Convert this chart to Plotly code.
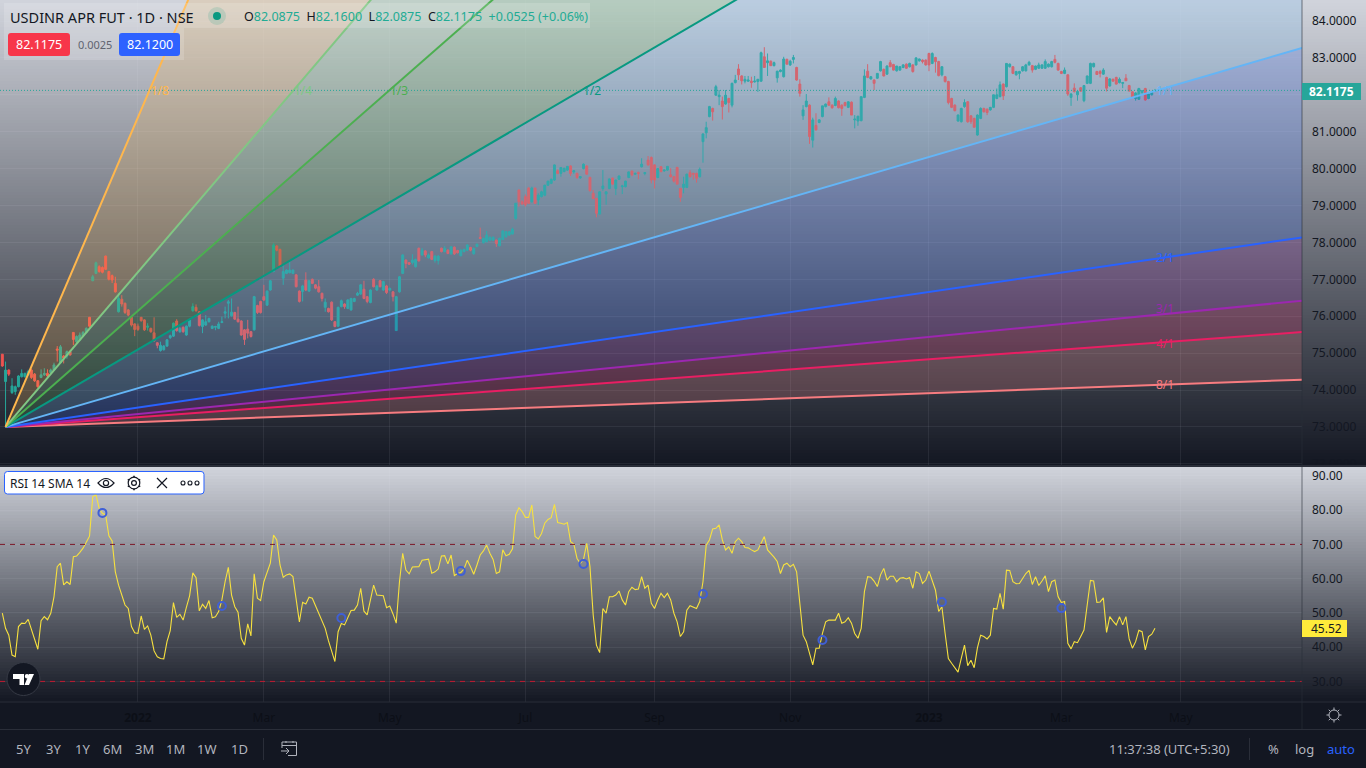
import plotly.graph_objects as go

W, H = 1366, 768

# ---------------- data ----------------
opens = [
74.97,74.23,74.54,73.93,73.96,74.09,74.36,74.36,74.41,74.54,
74.43,74.25,74.34,74.41,74.45,74.47,74.54,75.11,74.74,74.92,
74.92,75.04,75.56,75.31,75.36,75.46,75.56,75.97,76.96,77.16,
77.34,77.32,77.63,77.21,77.10,76.89,76.12,76.46,76.35,76.17,
75.97,75.79,75.73,75.97,75.90,75.70,75.67,75.55,75.28,75.07,
75.09,75.19,75.42,75.46,75.87,75.58,75.70,75.49,75.73,76.15,
76.24,76.12,75.72,75.76,75.85,75.67,75.70,75.67,75.83,76.08,
76.35,76.01,76.10,75.92,75.87,75.63,75.65,75.58,75.63,76.29,
76.40,76.53,76.30,76.71,77.21,77.90,77.81,77.03,77.16,77.18,
77.16,77.12,76.68,76.67,76.98,76.68,77.00,76.85,76.80,76.62,
76.24,76.21,76.38,75.85,75.73,76.26,76.33,76.21,76.17,76.40,
76.57,76.60,76.73,76.53,76.37,77.00,76.71,76.96,76.71,76.82,
76.71,76.66,75.61,76.66,77.16,77.52,77.45,77.45,77.34,77.84,
77.66,77.77,77.58,77.75,77.51,77.51,77.84,77.75,77.79,
77.69,77.87,77.78,77.64,77.75,77.79,77.86,77.69,77.89,78.13,
77.99,78.02,78.06,78.06,78.06,77.91,78.08,78.15,78.20,78.23,
78.65,79.42,79.10,79.24,79.47,79.10,79.47,79.15,79.24,79.28,79.55,
79.60,79.69,79.94,79.87,79.92,79.96,80.07,79.91,79.87,79.75,
80.00,80.07,79.76,79.33,79.19,78.77,79.46,79.31,79.46,79.74,
79.46,79.71,79.51,79.51,79.76,79.93,79.85,79.89,80.05,79.87,
80.23,80.30,80.10,79.76,80.05,79.94,79.96,79.83,79.78,80.03,
79.46,79.49,79.49,79.89,79.87,79.87,79.78,80.73,80.97,81.41,
81.63,81.99,81.95,81.83,81.75,81.90,81.72,82.33,82.70,82.51,
82.37,82.37,82.37,82.35,82.36,82.37,83.03,82.87,82.91,
82.79,82.46,82.63,82.49,82.96,82.81,82.96,82.74,82.29,81.43,
81.68,81.72,80.77,81.17,81.25,81.41,81.68,81.81,81.72,81.71,
81.83,81.72,81.79,81.66,81.80,81.32,81.29,81.30,81.93,82.64,
82.43,82.40,82.45,82.65,82.69,82.56,82.87,82.82,82.65,
82.67,82.74,82.83,82.76,82.81,82.81,82.92,82.94,82.94,83.12,
82.85,83.01,82.90,82.54,82.49,82.36,81.90,81.72,81.29,81.27,
81.68,81.81,81.43,81.36,80.91,81.36,81.63,81.61,81.59,81.66,
81.90,81.95,82.29,82.22,82.76,82.76,82.54,82.58,82.65,82.65,
82.81,82.79,82.69,82.72,82.72,82.72,82.76,82.76,82.96,82.85,
82.63,82.58,82.54,81.93,82.18,82.00,82.19,81.84,82.31,82.31,
82.76,82.63,82.63,82.56,82.47,82.24,82.42,82.47,82.33,82.31,
82.45,82.25,82.08,81.90,81.88,82.06,82.17,81.90,82.00,82.09]
highs = [
74.97,74.77,74.56,74.32,74.12,74.40,74.56,74.47,74.55,74.58,
74.46,74.27,74.56,74.59,74.56,74.58,74.74,75.19,75.22,74.95,
75.07,75.07,75.57,75.48,75.56,75.60,75.70,75.98,77.12,77.48,
77.38,77.35,77.64,77.23,77.13,77.07,76.62,76.57,76.37,76.19,
75.98,75.81,75.80,75.98,75.92,75.81,75.69,75.97,75.30,75.31,
75.22,75.38,75.50,75.83,75.92,75.71,75.72,75.75,75.93,76.35,
76.32,76.14,75.92,76.03,75.96,75.75,75.74,75.85,75.99,76.26,
76.44,76.48,76.12,76.26,75.89,75.65,75.90,75.60,76.55,76.31,
76.42,76.85,76.70,76.98,77.98,77.93,77.83,77.39,77.27,77.48,
77.27,77.14,76.70,76.85,77.19,76.98,77.02,76.87,76.98,76.64,
76.48,76.23,76.40,75.87,76.26,76.45,76.35,76.46,76.50,76.50,
76.66,76.87,76.96,76.55,76.73,77.03,76.85,76.98,76.96,76.85,
76.78,76.68,76.55,77.09,77.68,77.54,77.47,77.68,77.56,77.86,
77.85,77.79,77.70,77.77,77.65,77.65,77.86,77.90,77.81,
77.90,77.89,77.80,77.81,77.83,77.95,77.88,77.86,77.97,78.40,
78.13,78.31,78.16,78.16,78.08,78.13,78.33,78.31,78.31,78.40,
79.07,79.43,79.14,79.30,79.50,79.51,79.49,79.33,79.40,79.56,79.67,
79.73,80.11,79.98,80.04,80.02,80.07,80.09,79.96,79.89,79.80,
80.14,80.09,79.78,79.42,79.21,79.38,79.96,79.38,79.73,79.76,
79.70,79.81,79.56,79.67,79.92,79.95,79.89,79.92,80.28,79.90,
80.34,80.33,80.12,80.01,80.07,79.98,80.07,80.01,79.80,80.05,
79.48,79.78,79.86,79.96,79.89,79.89,80.03,80.95,81.27,81.70,
81.65,82.27,82.13,81.95,82.13,81.92,82.33,82.54,82.83,82.53,
82.51,82.51,82.49,82.51,82.43,83.17,83.29,83.12,82.93,
82.90,82.65,82.69,83.03,82.98,82.95,83.08,82.76,82.42,81.72,
82.02,81.74,81.38,81.50,81.34,81.70,81.76,81.93,81.74,81.95,
81.85,81.74,81.81,81.82,81.82,81.45,81.43,81.95,82.69,82.83,
82.51,82.42,82.59,82.92,82.71,82.80,82.94,82.84,82.78,
82.78,82.83,82.85,82.87,82.83,83.02,82.98,82.96,82.96,83.14,
83.15,83.03,82.92,82.78,82.51,82.38,81.92,81.74,81.47,81.65,
81.88,81.83,81.45,81.38,81.47,81.66,81.65,81.63,81.67,82.00,
82.17,82.36,82.31,82.86,82.85,82.78,82.65,82.65,82.78,82.84,
82.92,82.81,82.79,82.87,82.83,82.96,82.85,82.92,83.08,82.87,
82.65,82.74,82.56,82.05,82.31,82.11,82.21,82.26,82.52,82.87,
82.87,82.65,82.67,82.72,82.49,82.45,82.44,82.49,82.47,82.34,
82.56,82.27,82.10,82.07,82.19,82.13,82.19,82.03,82.06,82.16]
lows = [
74.63,73.02,74.38,73.89,73.87,74.07,74.34,74.34,74.38,74.30,
74.22,74.06,74.32,74.38,74.34,74.45,74.52,74.77,74.72,74.72,
74.85,74.93,75.22,75.27,75.33,75.44,75.54,75.70,76.95,77.14,
77.18,77.16,77.25,76.97,76.90,76.64,76.10,76.26,76.06,76.00,
75.72,75.46,75.60,75.85,75.60,75.61,75.55,75.31,75.13,75.04,
75.07,75.17,75.38,75.44,75.58,75.55,75.55,75.47,75.70,76.12,
76.12,75.72,75.54,75.74,75.83,75.65,75.62,75.65,75.81,75.94,
75.94,75.99,75.90,75.83,75.47,75.22,75.40,75.42,75.61,76.06,
76.07,76.41,76.28,76.69,77.19,77.76,77.32,76.85,77.14,77.16,
77.14,76.78,76.37,76.40,76.68,76.66,76.87,76.73,76.64,76.40,
76.12,76.10,75.87,75.70,75.71,76.24,76.20,76.19,76.15,76.38,
76.55,76.58,76.46,76.35,76.35,76.78,76.69,76.78,76.69,76.60,
76.68,76.40,75.60,76.64,77.14,77.30,77.39,77.40,77.32,77.48,
77.64,77.60,77.56,77.52,77.45,77.40,77.73,77.73,77.68,
77.67,77.66,77.70,77.62,77.73,77.77,77.76,77.67,77.87,78.09,
77.97,78.00,78.04,78.04,77.88,77.89,78.06,78.13,78.18,78.21,
78.61,78.97,79.02,78.97,79.04,79.08,79.04,79.01,79.22,79.25,79.53,
79.58,79.67,79.85,79.78,79.90,79.94,79.80,79.86,79.72,79.72,
79.98,79.83,79.38,79.17,78.68,78.75,79.40,79.02,79.44,79.56,
79.28,79.69,79.31,79.49,79.74,79.79,79.83,79.71,80.03,79.82,
80.08,79.60,79.46,79.74,79.90,79.91,79.94,79.76,79.62,79.56,
79.10,79.33,79.47,79.76,79.70,79.62,79.76,80.16,80.82,81.39,
81.30,81.97,81.72,81.33,81.73,81.52,81.66,82.31,82.40,82.28,
82.31,82.35,82.19,82.33,82.08,82.35,82.73,82.51,82.78,
82.77,82.33,82.61,82.47,82.82,82.78,82.85,82.38,81.95,81.32,
81.66,80.67,80.57,81.03,81.23,81.39,81.66,81.70,81.62,81.69,
81.63,81.43,81.68,81.64,81.45,81.09,81.16,81.28,81.91,82.45,
82.41,82.13,82.43,82.63,82.50,82.54,82.75,82.66,82.63,
82.65,82.72,82.70,82.74,82.60,82.79,82.90,82.85,82.79,82.64,
82.83,82.60,82.50,82.50,82.33,81.74,81.64,81.55,81.27,81.25,
81.65,81.24,81.21,81.12,80.89,81.34,81.52,81.45,81.57,81.64,
81.88,81.93,81.86,82.20,82.74,82.56,82.52,82.42,82.63,82.63,
82.79,82.60,82.67,82.70,82.70,82.70,82.74,82.74,82.85,82.65,
82.56,82.56,81.97,81.70,82.06,81.84,82.08,81.80,82.29,82.29,
82.74,82.54,82.47,82.54,82.09,82.22,82.36,82.28,82.31,82.18,
82.38,82.10,81.93,81.84,81.86,82.00,81.84,81.88,81.98,82.09]
closes = [
74.65,74.54,74.43,74.11,74.09,74.38,74.45,74.45,74.50,74.34,
74.25,74.09,74.41,74.45,74.38,74.54,74.68,75.08,75.17,74.86,
75.04,74.95,75.37,75.45,75.49,75.56,75.67,75.73,77.07,77.45,
77.21,77.19,77.27,77.00,76.98,76.66,76.48,76.33,76.10,76.03,
75.76,75.64,75.64,75.88,75.63,75.73,75.58,75.33,75.21,75.21,
75.19,75.36,75.47,75.81,75.61,75.67,75.58,75.73,75.90,76.26,
76.15,75.75,75.90,75.85,75.94,75.73,75.72,75.79,75.85,76.12,
76.39,76.11,75.92,75.85,75.49,75.37,75.54,75.45,76.53,76.10,
76.10,76.44,76.68,76.96,77.93,77.79,77.36,77.21,77.25,77.25,
77.25,76.80,76.40,76.82,76.71,76.96,76.89,76.76,76.66,76.48,
76.38,76.12,75.90,75.72,76.24,76.42,76.26,76.44,76.48,76.48,
76.62,76.85,76.48,76.40,76.71,76.80,76.82,76.80,76.94,76.64,
76.75,76.53,76.53,77.07,77.66,77.43,77.41,77.52,77.54,77.50,
77.79,77.66,77.66,77.54,77.63,77.63,77.75,77.84,77.70,
77.88,77.69,77.72,77.79,77.81,77.93,77.79,77.84,77.95,78.11,
78.11,78.20,78.14,78.14,77.97,78.11,78.31,78.29,78.29,78.36,
79.06,79.10,79.04,79.02,79.06,79.47,79.06,79.28,79.37,79.55,79.66,
79.71,80.10,79.87,80.03,80.01,80.06,79.87,79.94,79.76,79.78,
80.12,79.85,79.40,79.19,78.79,79.37,79.53,79.37,79.72,79.58,
79.69,79.80,79.53,79.66,79.91,79.83,79.87,79.87,80.12,79.89,
80.10,79.69,79.69,80.00,79.92,79.96,80.06,79.78,79.66,79.58,
79.22,79.58,79.85,79.78,79.85,79.74,79.98,80.94,81.11,81.68,
81.54,82.22,81.99,81.68,81.99,81.79,82.31,82.40,82.54,82.38,
82.42,82.40,82.33,82.37,82.42,83.14,82.74,82.92,82.79,
82.87,82.64,82.67,82.97,82.83,82.91,83.01,82.40,82.04,81.59,
81.83,80.87,81.32,81.05,81.32,81.70,81.75,81.72,81.65,81.90,
81.65,81.63,81.71,81.81,81.45,81.34,81.42,81.95,82.51,82.47,
82.49,82.31,82.58,82.90,82.51,82.78,82.76,82.67,82.78,
82.76,82.81,82.72,82.85,82.63,83.00,82.97,82.90,82.81,82.81,
83.12,82.90,82.52,82.76,82.36,81.79,81.66,81.57,81.45,81.63,
81.79,81.27,81.27,81.12,81.45,81.63,81.54,81.52,81.66,82.00,
82.00,82.27,81.97,82.85,82.83,82.58,82.63,82.63,82.76,82.81,
82.88,82.67,82.78,82.81,82.81,82.90,82.83,82.90,82.88,82.67,
82.58,82.67,82.02,82.02,82.09,82.09,82.10,82.25,82.51,82.85,
82.85,82.55,82.58,82.67,82.18,82.43,82.37,82.29,82.42,82.33,
82.38,82.10,81.93,82.05,82.17,82.11,81.86,82.02,82.06,82.12]

rsi = [
49.9,45.5,43.5,37.7,37.2,46.0,47.0,46.9,48.1,45.0,42.1,39.4,47.7,48.9,48.0,49.9,54.7,63.5,64.5,58.2,
59.1,58.3,66.4,66.6,67.7,68.9,70.6,72.4,83.9,84.6,80.5,79.1,78.6,72.5,71.0,62.0,58.1,55.2,52.3,51.3,
46.0,44.2,44.0,49.1,45.2,46.2,43.5,38.9,37.2,36.7,36.6,41.6,44.8,53.0,48.7,49.6,47.9,51.6,55.0,61.7,
60.3,50.6,52.5,51.3,53.6,48.6,48.9,50.4,53.8,59.1,63.3,55.2,51.8,50.2,42.6,40.6,46.8,43.3,61.4,54.3,
53.6,59.1,61.8,64.5,72.7,71.3,64.0,60.4,61.1,61.4,60.6,53.3,47.4,53.1,52.6,54.6,54.3,52.1,49.9,47.6,
45.5,41.9,38.7,35.8,44.5,46.9,46.5,48.6,50.7,50.8,52.3,57.2,50.5,49.4,53.8,58.1,55.2,55.1,55.0,51.5,
52.0,49.7,47.0,59.1,67.4,62.5,61.4,63.4,63.5,63.5,65.4,65.6,65.7,61.6,62.0,62.8,66.6,66.7,64.3,66.9,
60.9,61.5,61.8,62.8,65.4,63.5,61.3,64.0,66.9,68.1,69.8,67.4,65.6,61.5,62.0,68.4,66.7,67.1,68.7,78.6,
80.7,79.6,77.9,77.9,81.5,72.3,71.6,73.2,76.2,77.3,77.8,81.7,76.4,76.2,75.9,76.4,70.8,70.1,65.9,64.5,
65.6,70.3,63.5,49.4,40.6,38.4,51.3,49.9,54.7,54.7,55.2,56.4,53.8,52.3,56.2,57.5,56.8,57.0,60.6,57.2,
58.1,52.8,51.3,53.8,55.7,54.5,55.7,53.8,49.9,47.4,43.1,44.5,50.8,52.1,51.8,51.3,53.3,59.1,69.8,71.3,
74.5,74.7,75.7,71.3,68.4,69.3,67.4,70.8,71.8,70.8,69.1,69.0,68.4,67.9,68.4,70.3,72.3,68.4,67.4,66.3,
65.0,61.5,64.0,64.5,63.5,64.2,62.0,52.3,43.5,41.6,38.2,34.8,39.7,39.7,44.0,47.4,47.9,47.9,47.9,49.9,
47.0,47.4,48.6,47.0,44.0,42.6,45.5,56.2,60.6,60.4,59.3,57.7,61.1,63.0,59.6,60.7,60.7,59.1,60.1,60.3,
59.9,60.3,57.2,62.0,61.5,58.6,59.6,62.2,59.6,56.7,50.4,51.8,44.0,36.7,35.3,34.1,32.7,36.7,40.6,34.6,
36.2,34.0,39.8,43.5,43.1,42.4,43.5,51.3,51.1,55.7,51.1,62.5,62.4,59.1,58.5,58.6,60.1,61.5,62.4,58.3,
60.6,58.0,59.3,60.8,56.2,59.1,59.6,54.7,53.0,53.3,41.1,39.5,41.6,41.3,43.1,45.0,52.3,59.5,59.3,53.1,
53.2,54.4,44.3,48.9,47.6,46.5,48.9,46.5,48.9,42.4,39.7,41.6,44.9,44.5,39.2,43.1,43.8,45.52]

# hollow circle readings on the RSI pane
marker_bars = [31, 68, 105, 142, 180, 217, 254, 291, 328]
marker_rsi = [79.2, 52.0, 48.5, 62.2, 64.3, 55.5, 42.1, 53.2, 51.4]

# Gann fan: anchor and the price each ray reaches at the right edge
fan_labels = ["8/1", "4/1", "3/1", "2/1", "1/1", "1/2", "1/3", "1/4", "1/8"]
fan_end = [74.28, 75.57, 76.42, 78.135, 83.27, 93.54, 103.81, 114.08, 155.16]
fan_line = ["#f77c80", "#e91e63", "#9c27b0", "#2962ff", "#64b5f6", "#089981", "#4caf50", "#81c784", "#ffb74d"]
fan_fill = [None, "rgba(247,124,128,0.2)", "rgba(233,30,99,0.2)", "rgba(156,39,176,0.2)", "rgba(41,98,255,0.2)",
            "rgba(100,181,246,0.2)", "rgba(76,175,80,0.2)", "rgba(129,199,132,0.2)", "rgba(255,183,77,0.2)"]
fan_label_bar = [360, 360, 360, 360, 360, 182.6, 123, 93, 48.8]
fan_label_price = [74.15, 75.26, 76.2, 77.58, 82.12, 82.12, 82.12, 82.12, 82.12]
anchor_bar, anchor_price = 1, 73.0

time_ticks = [42, 81, 120, 162, 202, 244, 287, 328, 365]
time_labels = ["<b>2022</b>", "Mar", "May", "Jul", "Sep", "Nov", "<b>2023</b>", "Mar", "May"]
price_ticks = list(range(72, 85))
rsi_ticks = [30, 40, 50, 60, 70, 80, 90]
range_buttons = ["5Y", "3Y", "1Y", "6M", "3M", "1M", "1W", "1D"]
range_button_px = [23, 53, 82.5, 112.5, 144, 175.5, 207, 239]

assert len(opens) == len(highs) == len(lows) == len(closes) == len(rsi), (len(opens), len(highs), len(lows), len(closes), len(rsi))
bars = list(range(len(closes)))

# ---------------- geometry helpers ----------------
PANE_R = 1302
FIRST_PX, LAST_PX = 2.33, 1155.0
step = (LAST_PX - FIRST_PX) / (len(bars) - 1)
x_range = [-FIRST_PX / step, (PANE_R - FIRST_PX) / step]
y_range = [84 - (465 - 21) / 36.9, 84 + 21 / 36.9]
rsi_range = [70 - (702 - 544.4) / 3.425, 70 + (544.4 - 467) / 3.425]

def fx(x): return x / W
def fy(y): return 1 - y / H
def p(x, y): return f"{x / W:.5f},{1 - y / H:.5f}"

shapes, ann = [], []

def rect(x0, y0, x1, y1, fill, layer="above", line=None, lw=0, kind="rect"):
    shapes.append(dict(type=kind, xref="paper", yref="paper", x0=fx(x0), x1=fx(x1), y0=fy(y0), y1=fy(y1),
                       fillcolor=fill, layer=layer, line=dict(color=line or "rgba(0,0,0,0)", width=lw)))

def circle(cx, cy, r, fill="rgba(0,0,0,0)", line=None, lw=0):
    rect(cx - r, cy - r, cx + r, cy + r, fill, line=line, lw=lw, kind="circle")

def path(d, line="#131722", lw=1.2, fill="rgba(0,0,0,0)"):
    shapes.append(dict(type="path", xref="paper", yref="paper", path=d, fillcolor=fill, layer="above",
                       line=dict(color=line, width=lw)))

def text(x, y, s, size=13, color="#131722", anchor="center", family="Noto Sans"):
    ann.append(dict(xref="paper", yref="paper", x=fx(x), y=fy(y), text=s, showarrow=False, xanchor=anchor,
                    yanchor="middle", align="left", borderpad=0, font=dict(size=size, color=color, family=family)))

def round_rect(x0, y0, x1, y1, r, fill, line=None, lw=0):
    d = (f"M{p(x0 + r, y0)} L{p(x1 - r, y0)} Q{p(x1, y0)} {p(x1, y0 + r)} L{p(x1, y1 - r)} Q{p(x1, y1)} {p(x1 - r, y1)} "
         f"L{p(x0 + r, y1)} Q{p(x0, y1)} {p(x0, y1 - r)} L{p(x0, y0 + r)} Q{p(x0, y0)} {p(x0 + r, y0)} Z")
    path(d, line=line or "rgba(0,0,0,0)", lw=lw, fill=fill)

def mix(t):
    a, b = (209, 212, 220), (19, 23, 34)
    return "rgb(" + ",".join(str(round(u + (v - u) * t)) for u, v in zip(a, b)) + ")"

def gradient(y0, y1, band=3):
    y = y0
    while y < y1:
        t = (y + band / 2 - y0) / (y1 - y0)
        rect(0, y, W, min(y + band + 1, y1), mix(min(t, 1)), layer="below")
        y += band

# ---------------- backgrounds ----------------
gradient(0, 465)
gradient(467, 702)
BORDER = "#2a2e39"

# ---------------- traces ----------------
fig = go.Figure()
fig.add_trace(go.Candlestick(x=bars, open=opens, high=highs, low=lows, close=closes, xaxis="x", yaxis="y",
                             increasing=dict(line=dict(color="#26a69a", width=1), fillcolor="#26a69a"),
                             decreasing=dict(line=dict(color="#ef5350", width=1), fillcolor="#ef5350"),
                             whiskerwidth=0, hoverinfo="skip", showlegend=False))
for end, lc, fc in zip(fan_end, fan_line, fan_fill):
    fig.add_trace(go.Scatter(x=[anchor_bar, x_range[1]], y=[anchor_price, end], mode="lines", xaxis="x", yaxis="y",
                             line=dict(color=lc, width=2), fill="tonexty" if fc else None,
                             fillcolor=fc, hoverinfo="skip", showlegend=False))
fig.add_trace(go.Scatter(x=bars, y=rsi, mode="lines", xaxis="x2", yaxis="y2",
                         line=dict(color="#f7e13f", width=1.1), hoverinfo="skip", showlegend=False))
fig.add_trace(go.Scatter(x=marker_bars, y=marker_rsi, mode="markers", xaxis="x2", yaxis="y2",
                         marker=dict(symbol="circle-open", size=8, color="#3f5fd6", line=dict(width=2, color="#3f5fd6")),
                         hoverinfo="skip", showlegend=False))

for lab, bar, price, lc in zip(fan_labels, fan_label_bar, fan_label_price, fan_line):
    ann.append(dict(xref="x", yref="y", x=bar, y=price, text=lab, showarrow=False, xanchor="center", yanchor="middle",
                    font=dict(size=12, color=lc, family="Noto Sans")))

# reference lines
shapes.append(dict(type="line", xref="paper", yref="y", x0=0, x1=fx(PANE_R), y0=closes[-1], y1=closes[-1], layer="above",
                   line=dict(color="#26a69a", width=1, dash="1px,2px")))
shapes.append(dict(type="line", xref="paper", yref="y2", x0=0, x1=fx(PANE_R), y0=70, y1=70, layer="above",
                   line=dict(color="#7d1626", width=1, dash="5px,5px")))
shapes.append(dict(type="line", xref="paper", yref="y2", x0=0, x1=fx(PANE_R), y0=30, y1=30, layer="above",
                   line=dict(color="#c21a30", width=1, dash="5px,5px")))

# pane separators
rect(PANE_R, 465, W, 470, mix(0.0))
rect(0, 465, W, 467, "#2a2e39")
rect(0, 702, W, 729, "#131722", layer="below")
rect(0, 729, W, 768, "#131722", layer="below")
rect(0, 701.5, W, 702.5, BORDER)
rect(0, 729, W, 730, BORDER)
rect(PANE_R - 0.5, 0, PANE_R + 0.5, 729, "rgba(42,46,57,0.6)")

# header
rect(4, 3, 590, 28, "rgba(255,255,255,0.16)")
rect(4, 28, 184, 60, "rgba(255,255,255,0.16)")
text(9, 17, "USDINR APR FUT · 1D · NSE", size=14.5, anchor="left")
circle(217, 16, 9, fill="rgba(8,153,129,0.15)")
circle(217, 16, 4, fill="#089981")
T = "#22ab94"
ohlc = (f'O<span style="color:{T}">82.0875</span>  H<span style="color:{T}">82.1600</span>  '
        f'L<span style="color:{T}">82.0875</span>  C<span style="color:{T}">82.1175</span>  '
        f'<span style="color:{T}">+0.0525 (+0.06%)</span>')
text(243, 17, ohlc, size=12.5, anchor="left")
round_rect(8, 33, 70, 56, 3, "#f7364a")
round_rect(119, 33, 180, 56, 3, "#2e62ff")
text(39, 44.5, "82.1175", size=12.5, color="#ffffff")
text(149.5, 44.5, "82.1200", size=12.5, color="#ffffff")
text(94.5, 44.5, "0.0025", size=11, color="#5f6470")

# price labels
rect(1302, 83, 1361, 100, "#26a69a")
text(1331.5, 91.5, "<b>82.1175</b>", size=12, color="#ffffff")
rect(1302, 620, 1347, 637, "#ffeb3b")
text(1326, 628.5, "45.52", size=12, color="#131722")

# RSI legend
round_rect(4.5, 471.5, 204, 494, 3, "#ffffff", line="#2962ff", lw=1)
text(9, 483, "RSI 14 SMA 14", size=12, color="#131722", anchor="left")
path(f"M{p(98, 483)} Q{p(106, 474)} {p(114, 483)} Q{p(106, 492)} {p(98, 483)} Z")
circle(106, 483, 2.6, line="#131722", lw=1.2)
circle(134, 483, 5.8, line="#131722", lw=1.2)
circle(134, 483, 2.4, line="#131722", lw=1.2)
for dx, dy in [(0, -7.2), (0, 7.2), (6.2, -3.6), (-6.2, 3.6), (6.2, 3.6), (-6.2, -3.6)]:
    path(f"M{p(134 + dx * 0.8, 483 + dy * 0.8)} L{p(134 + dx, 483 + dy)}", lw=1.6)
path(f"M{p(157, 478)} L{p(167, 488)} M{p(167, 478)} L{p(157, 488)}")
for cx in (183, 190, 197):
    circle(cx, 483, 2, line="#131722", lw=1.1)

# logo
circle(23.5, 679, 16.5, fill="#131722", line="#363a45", lw=1)
WHT = "#ffffff"
path(f"M{p(13, 674)} L{p(24, 674)} L{p(24, 685)} L{p(19.5, 685)} L{p(19.5, 679)} L{p(13, 679)} Z", line=WHT, lw=0, fill=WHT)
circle(27, 676.3, 2.2, fill=WHT)
path(f"M{p(29, 674)} L{p(34, 674)} L{p(29, 685)} L{p(24.5, 685)} Z", line=WHT, lw=0, fill=WHT)

# settings icon
GR = "#b2b5be"
circle(1334, 715, 5, line=GR, lw=1)
for dx, dy in [(0, 1), (0, -1), (1, 0), (-1, 0), (.7, .7), (-.7, .7), (.7, -.7), (-.7, -.7)]:
    path(f"M{p(1334 + 5 * dx, 715 + 5 * dy)} L{p(1334 + 7.5 * dx, 715 + 7.5 * dy)}", line=GR, lw=1)

# bottom bar
for lab, xp in zip(range_buttons, range_button_px):
    text(xp, 749, lab, size=13, color=GR)
rect(263, 738, 264, 760, "#2a2e39")
rect(1249, 738, 1250, 760, "#2a2e39")
path(f"M{p(282, 748)} L{p(282, 742)} L{p(296.5, 742)} L{p(296.5, 755.5)} L{p(288, 755.5)} "
     f"M{p(282, 745.5)} L{p(296.5, 745.5)} M{p(286, 741)} L{p(286, 743)} M{p(293, 741)} L{p(293, 743)} "
     f"M{p(281, 751)} L{p(289, 751)} M{p(286, 748)} L{p(289, 751)} L{p(286, 754)}", line=GR, lw=1)
text(1169, 749, "11:37:38 (UTC+5:30)", size=13, color=GR)
text(1273, 749, "%", size=13, color=GR)
text(1304, 749, "log", size=13, color=GR)
text(1341, 749, "auto", size=13, color="#2962ff")

GRID = "rgba(240,243,250,0.07)"
all_time_ticks = [x_range[0]] + time_ticks
common_x = dict(range=x_range, domain=[0, fx(PANE_R)], tickmode="array", tickvals=all_time_ticks, showgrid=True,
                gridcolor=GRID, gridwidth=1, zeroline=False, showline=False, fixedrange=True, automargin=False)
fig.update_layout(
    width=W, height=H, autosize=False, margin=dict(l=0, r=0, t=0, b=0, pad=0, autoexpand=False), showlegend=False,
    paper_bgcolor="#131722", plot_bgcolor="rgba(0,0,0,0)", boxgap=0.3, boxgroupgap=0.15, dragmode=False, hovermode=False,
    font=dict(family="Noto Sans", size=12, color="#131722"),
    xaxis=dict(common_x, anchor="y", showticklabels=False, ticks="", rangeslider=dict(visible=False)),
    xaxis2=dict(common_x, anchor="y2", ticktext=["Nov"] + time_labels, ticks="outside", ticklen=5, tickcolor="rgba(0,0,0,0)",
                tickfont=dict(size=12, color="#0c0f17", family="Noto Sans")),
    yaxis=dict(range=y_range, domain=[fy(465), 1], side="right", anchor="x", tickmode="array", tickvals=price_ticks,
               ticktext=[f"{v:.4f}" for v in price_ticks], showgrid=True, gridcolor=GRID, zeroline=False, ticks="",
               ticklabelstandoff=9, tickfont=dict(size=12, color="#131722", family="Noto Sans"), fixedrange=True, automargin=False),
    yaxis2=dict(range=rsi_range, domain=[fy(702), fy(467)], side="right", anchor="x2", tickmode="array", tickvals=rsi_ticks,
                ticktext=[f"{v:.2f}" for v in rsi_ticks], showgrid=True, gridcolor=GRID, zeroline=False, ticks="",
                ticklabelstandoff=9, tickfont=dict(size=12, color="#131722", family="Noto Sans"), fixedrange=True, automargin=False),
    shapes=shapes, annotations=ann,
)
fig.write_html("out.html", config={"displayModeBar": False},
               post_script="document.body.style.margin='0';document.documentElement.style.overflow='hidden';")
